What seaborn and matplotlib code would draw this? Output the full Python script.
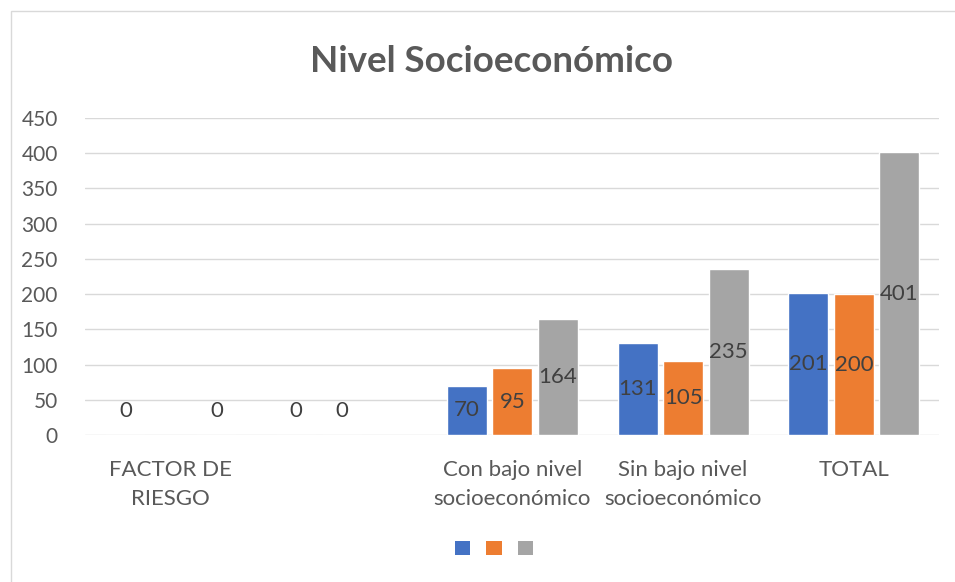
import numpy as np
import pandas as pd
import matplotlib
matplotlib.use("Agg")
import matplotlib.pyplot as plt
from matplotlib.patches import Patch, Rectangle
import seaborn as sns

# chart data (NaN = no bar / no label)
categories = ["FACTOR DE\nRIESGO", " ", "Con bajo nivel\nsocioeconómico",
              "Sin bajo nivel\nsocioeconómico", "TOTAL"]
serie_1 = [0, 0, 70, 131, 201]
serie_2 = [np.nan, 0, 95, 105, 200]
serie_3 = [0, np.nan, 164, 235, 401]
series = ["Serie1", "Serie2", "Serie3"]
colors = ["#4472C4", "#ED7D31", "#A5A5A5"]
title = "Nivel Socioeconómico"
yticks = list(range(0, 451, 50))

txt = "#595959"

df = pd.DataFrame({
    "cat": categories * 3,
    "serie": [s for s in series for _ in categories],
    "valor": serie_1 + serie_2 + serie_3,
})

sns.set_theme(style="white")
plt.rcParams["font.family"] = ["Lato", "DejaVu Sans"]

fig = plt.figure(figsize=(9.55, 5.82), dpi=100)
ax = fig.add_axes([0.0895, 0.2526, 0.894, 0.5447])

sns.barplot(data=df.dropna(), x="cat", y="valor", hue="serie", order=categories,
            hue_order=series, palette=colors, width=0.8, gap=0.12,
            saturation=1, legend=False, ax=ax)

ax.set_ylim(0, 450)
ax.set_yticks(yticks)
ax.set_xlim(-0.5, len(categories) - 0.5)
ax.yaxis.grid(True, color="#D9D9D9", linewidth=1)
ax.set_axisbelow(True)
for s in ax.spines.values():
    s.set_visible(False)
ax.tick_params(axis="y", length=0, labelsize=15, colors=txt, pad=20)
ax.tick_params(axis="x", length=0, labelsize=16, colors=txt, pad=18)
ax.set_xlabel("")
ax.set_ylabel("")
for lab in ax.get_xticklabels():
    lab.set_linespacing(1.55)

# data labels
for cont in ax.containers:
    for p in cont.patches:
        h = p.get_height()
        if np.isnan(h):
            continue
        x = p.get_x() + p.get_width() / 2
        if h > 0:
            ax.text(x, h / 2, f"{h:.0f}", ha="center", va="center",
                    fontsize=16, color="#404040")
        else:
            ax.annotate("0", (x, 0), xytext=(0, 17), textcoords="offset points",
                        ha="center", va="center", fontsize=16, color="#404040")

fig.text(0.515, 1 - 61 / 582, title, ha="center", va="center", fontsize=26.5,
         fontweight="bold", color=txt)

handles = [Patch(facecolor=c, edgecolor="none") for c in colors]
fig.legend(handles, ["", "", ""], loc="center", ncol=3,
           bbox_to_anchor=(497 / 955, 1 - 549 / 582), frameon=False,
           handlelength=1.0, handleheight=1.0, columnspacing=0.65,
           handletextpad=0.4)

fig.patches.append(Rectangle((11 / 955, -0.05), 1.2, 1 - 11 / 582 + 0.05,
                             transform=fig.transFigure, fill=False,
                             edgecolor="#D9D9D9", linewidth=1))

fig.savefig("out.png", dpi=100)
